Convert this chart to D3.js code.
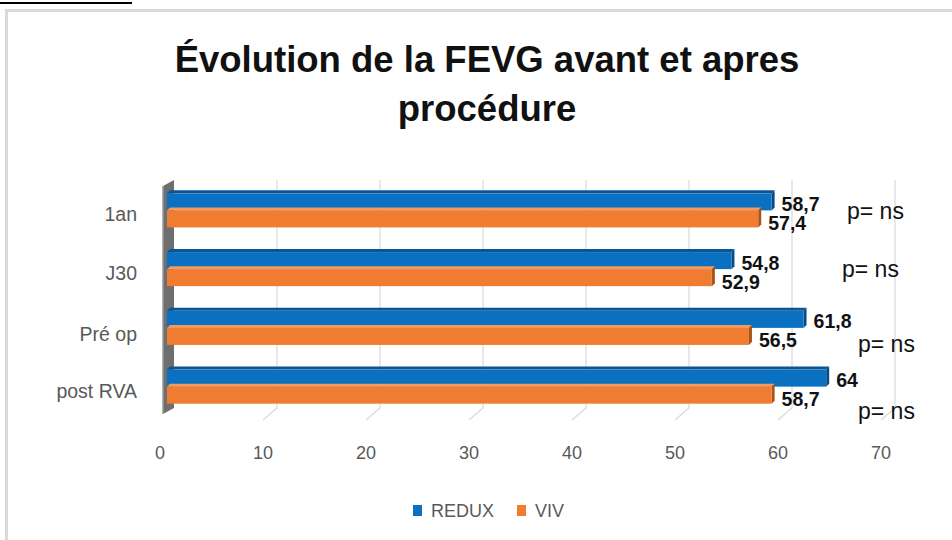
<!DOCTYPE html>
<html>
<head>
<meta charset="utf-8">
<style>
  body { margin: 0; background: #fff; }
  svg { display: block; font-family: "Liberation Sans", Arial, sans-serif; }
  .tick-label { fill: #595959; font-size: 18px; }
  .cat-label { fill: #595959; font-size: 19.5px; }
  .legend-label { fill: #595959; font-size: 18px; }
  .value-label { fill: #111; font-size: 19.5px; font-weight: bold; }
  .p-note { fill: #111; font-size: 23px; }
  .title { fill: #111; font-size: 36.5px; font-weight: bold; text-anchor: middle; }
</style>
<script src="https://d3js.org/d3.v7.min.js"></script>
</head>
<body>
<svg id="chart" width="952" height="540"></svg>
<script>
// data
const categories = ['1an', 'J30', 'Pré op', 'post RVA'];
const seriesNames = ['REDUX', 'VIV'];
const redux = [58.7, 54.8, 61.8, 64];
const viv = [57.4, 52.9, 56.5, 58.7];
const valueLabels = [['58,7', '57,4'], ['54,8', '52,9'], ['61,8', '56,5'], ['64', '58,7']];
const pNotes = ['p= ns', 'p= ns', 'p= ns', 'p= ns'];
const xTicks = [0, 10, 20, 30, 40, 50, 60, 70];

const colors = {
  REDUX: { front: '#0a70c2', top: '#0b5596', side: '#084a84' },
  VIV:   { front: '#ef7c30', top: '#f49a5c', side: '#a9521a' }
};

const svg = d3.select('#chart');

// frame + the cut "figure" rule above it
svg.append('rect')
  .attr('x', 6.5).attr('y', 10.5)
  .attr('width', 952).attr('height', 540)
  .attr('fill', 'none').attr('stroke', '#d9d9d9').attr('stroke-width', 3);
svg.append('line')
  .attr('x1', 0).attr('x2', 132).attr('y1', 3).attr('y2', 3)
  .attr('stroke', '#000').attr('stroke-width', 2);

// title
svg.append('text').attr('class', 'title')
  .attr('x', 487).attr('y', 72)
  .text('Évolution de la FEVG avant et apres');
svg.append('text').attr('class', 'title')
  .attr('x', 487).attr('y', 121)
  .text('procédure');

// scales
const x = d3.scaleLinear().domain([0, 70]).range([167, 888]);
const y = d3.scaleBand().domain(categories).range([181, 416])
  .paddingInner(0.42).paddingOuter(0.21);
const sub = d3.scaleBand().domain(seriesNames).range([0, y.bandwidth()]);

const depth = 7;      // 3D offset between back wall, bars and front edge
const plotTop = 180, floorBack = 408, floorFront = 420;

// back wall (dark strip on the left)
svg.append('path')
  .attr('d', `M${x(0) - 4},${plotTop + 6} L${x(0) + depth},${plotTop} L${x(0) + depth},${floorBack} L${x(0) - 4},${floorFront - 6} Z`)
  .attr('fill', '#6e6e6e');
svg.append('path')
  .attr('d', `M${x(0) - 4},${plotTop + 6} L${x(0) - 4},${floorFront - 6}`)
  .attr('stroke', '#9a9a9a').attr('stroke-width', 1.5);

// gridlines: vertical on the back, slanting onto the floor
svg.append('g').selectAll('path')
  .data(xTicks.slice(1))
  .join('path')
  .attr('d', d => `M${x(d) + depth},${plotTop} L${x(d) + depth},${floorBack} L${x(d) - depth},${floorFront}`)
  .attr('fill', 'none').attr('stroke', '#d9d9d9').attr('stroke-width', 1.2);

// bars
const rows = categories.map((c, i) => ({ cat: c, values: [redux[i], viv[i]], labels: valueLabels[i] }));
const bars = [];
rows.forEach(r => seriesNames.forEach((s, j) => bars.push({ cat: r.cat, series: s, value: r.values[j], label: r.labels[j] })));

const t = 3; // thickness of the visible top / side faces
const g = svg.append('g');
bars.forEach(b => {
  const y0 = y(b.cat) + sub(b.series);
  const h = sub.bandwidth();
  const x0 = x(0), x1 = x(b.value);
  const c = colors[b.series];
  g.append('path')
    .attr('d', `M${x0},${y0} L${x0 + t},${y0 - t} L${x1 + t},${y0 - t} L${x1},${y0} Z`)
    .attr('fill', c.top);
  g.append('path')
    .attr('d', `M${x1},${y0} L${x1 + t},${y0 - t} L${x1 + t},${y0 + h - t} L${x1},${y0 + h} Z`)
    .attr('fill', c.side);
  g.append('rect')
    .attr('x', x0).attr('y', y0).attr('width', x1 - x0).attr('height', h)
    .attr('fill', c.front);
});

// value labels at the bar ends
svg.append('g').selectAll('text')
  .data(bars)
  .join('text')
  .attr('class', 'value-label')
  .attr('x', d => x(d.value) + 10)
  .attr('y', d => y(d.cat) + sub(d.series) + sub.bandwidth() / 2 + (d.series === 'REDUX' ? 9 : 11))
  .text(d => d.label);

// p notes, placed like the hand-moved boxes in the original
const pShift = [[0, 26], [-5, 25], [11, 41], [11, 49]];
svg.append('g').selectAll('text')
  .data(pNotes)
  .join('text')
  .attr('class', 'p-note')
  .attr('x', (d, i) => x(70) - 41 + pShift[i][0])
  .attr('y', (d, i) => y(categories[i]) + pShift[i][1])
  .text(d => d);

// category axis
svg.append('g').selectAll('text')
  .data(categories)
  .join('text')
  .attr('class', 'cat-label')
  .attr('x', 137)
  .attr('y', (d, i) => y(d) + y.bandwidth() / 2 + (i === 2 ? 13 : 11))
  .attr('text-anchor', 'end')
  .text(d => d);

// value axis labels
svg.append('g').selectAll('text')
  .data(xTicks)
  .join('text')
  .attr('class', 'tick-label')
  .attr('x', d => x(d) - depth)
  .attr('y', 459)
  .attr('text-anchor', 'middle')
  .text(d => d);

// legend
const legend = svg.append('g').selectAll('g')
  .data(seriesNames)
  .join('g')
  .attr('transform', (d, i) => `translate(${i === 0 ? 413 : 517},511)`);
legend.append('rect')
  .attr('x', 0).attr('y', -6).attr('width', 9).attr('height', 11)
  .attr('fill', d => colors[d].front);
legend.append('text')
  .attr('class', 'legend-label')
  .attr('x', 18).attr('y', 6)
  .text(d => d);
</script>
</body>
</html>
